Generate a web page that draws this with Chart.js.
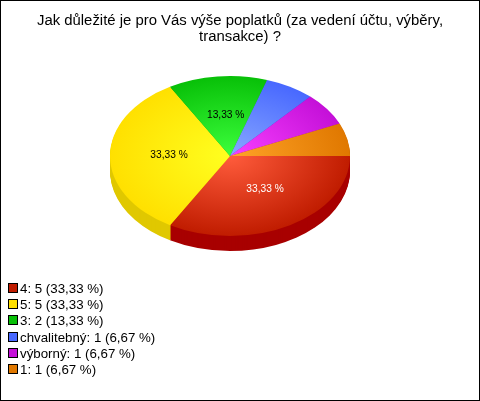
<!DOCTYPE html>
<html lang="cs">
<head>
<meta charset="utf-8">
<title>Graf</title>
<script src="https://cdn.jsdelivr.net/npm/chart.js@4"></script>
<style>
    html, body { margin: 0; padding: 0; background: #fff; }
    #box { position: relative; width: 480px; height: 401px; overflow: hidden; font-family: "Liberation Sans", Arial, sans-serif; color: #000; }
    #frame { position: absolute; left: 0; top: 0; width: 478px; height: 399px; border: 1px solid #000; pointer-events: none; }
    canvas { position: absolute; left: 0; top: 0; }
    #title { position: absolute; left: 20px; width: 440px; top: 12px; text-align: center; font-size: 14.9px; line-height: 16px; }
    #legend { position: absolute; left: 8px; top: 281px; font-size: 13.3px; }
    .row { height: 16.2px; line-height: 16px; white-space: nowrap; }
    .sq { display: inline-block; width: 8px; height: 8px; border: 1px solid #000; margin-right: 2px; }
</style>
</head>
<body>
<div id="box">
    <canvas id="graf" width="480" height="401"></canvas>
    <div id="title">Jak důležité je pro Vás výše poplatků (za vedení účtu, výběry, transakce) ?</div>
    <div id="legend"></div>
    <div id="frame"></div>
</div>
<script>
const categories = ["4", "5", "3", "chvalitebný", "výborný", "1"];
const counts = [5, 5, 2, 1, 1, 1];
const percents = ["33,33", "33,33", "13,33", "6,67", "6,67", "6,67"];

const edgeColors = ["#c01c00", "#ffe000", "#08c008", "#4868ff", "#c410d8", "#e07800"];
const centerColors = ["#ff5c3c", "#ffff20", "#3cff3c", "#88a8ff", "#f840ff", "#ffa428"];
const wallColors = ["#a80000", "#e0c800", "#08a008", "#3050d0", "#a000b0", "#c06000"];
const labelColors = ["#fff", "#000", "#000", "", "", ""];
const labelNudge = [5, -1, 2, 0, 0, 0];

const squash = 80 / 120;
const depth = 15;

const legend = document.getElementById("legend");
categories.forEach(function (cat, i) {
    const row = document.createElement("div");
    row.className = "row";
    const sq = document.createElement("span");
    sq.className = "sq";
    sq.style.background = edgeColors[i];
    row.appendChild(sq);
    row.appendChild(document.createTextNode(cat + ": " + counts[i] + " (" + percents[i] + " %)"));
    legend.appendChild(row);
});

// the pie is a circle in chart.js, so squash the context to get the tilted look
const tilt = {
    id: "tilt",
    beforeDatasetsDraw(chart) {
        const ctx = chart.ctx;
        const arcs = chart.getDatasetMeta(0).data;
        const cy = arcs[0].y;
        ctx.save();
        ctx.translate(0, cy);
        ctx.scale(1, squash);
        ctx.translate(0, -cy);
        for (let d = depth; d > 0; d--) {
            arcs.forEach(function (arc, i) {
                ctx.fillStyle = wallColors[i];
                ctx.beginPath();
                ctx.moveTo(arc.x, arc.y + d / squash);
                ctx.arc(arc.x, arc.y + d / squash, arc.outerRadius, arc.startAngle, arc.endAngle);
                ctx.closePath();
                ctx.fill();
            });
        }
    },
    afterDatasetsDraw(chart) {
        const ctx = chart.ctx;
        ctx.restore();
        const arcs = chart.getDatasetMeta(0).data;
        ctx.save();
        ctx.font = "10.2px 'Liberation Sans', Arial, sans-serif";
        ctx.textAlign = "center";
        ctx.textBaseline = "middle";
        arcs.forEach(function (arc, i) {
            if (!labelColors[i]) return;
            const p = arc.getCenterPoint();
            ctx.fillStyle = labelColors[i];
            ctx.fillText(percents[i] + " %", p.x + labelNudge[i], arc.y + (p.y - arc.y) * squash - 1);
        });
        ctx.restore();
    }
};

// lighter in the middle of the pie, darker at the rim
function faceGradient(context) {
    const i = context.dataIndex;
    const area = context.chart.chartArea;
    if (!area) return edgeColors[i];
    const cx = (area.left + area.right) / 2;
    const cy = (area.top + area.bottom) / 2;
    const r = Math.min(area.right - area.left, area.bottom - area.top) / 2;
    const g = context.chart.ctx.createRadialGradient(cx, cy, 0, cx, cy, r);
    g.addColorStop(0, centerColors[i]);
    g.addColorStop(1, edgeColors[i]);
    return g;
}

new Chart(document.getElementById("graf"), {
    type: "pie",
    data: {
        labels: categories,
        datasets: [{
            data: counts,
            backgroundColor: faceGradient,
            borderWidth: 0
        }]
    },
    options: {
        responsive: false,
        animation: false,
        rotation: 90,
        layout: { padding: { left: 110, right: 130, top: 36, bottom: 125 } },
        plugins: { legend: { display: false }, title: { display: false }, tooltip: { enabled: false } }
    },
    plugins: [tilt]
});
</script>
</body>
</html>
